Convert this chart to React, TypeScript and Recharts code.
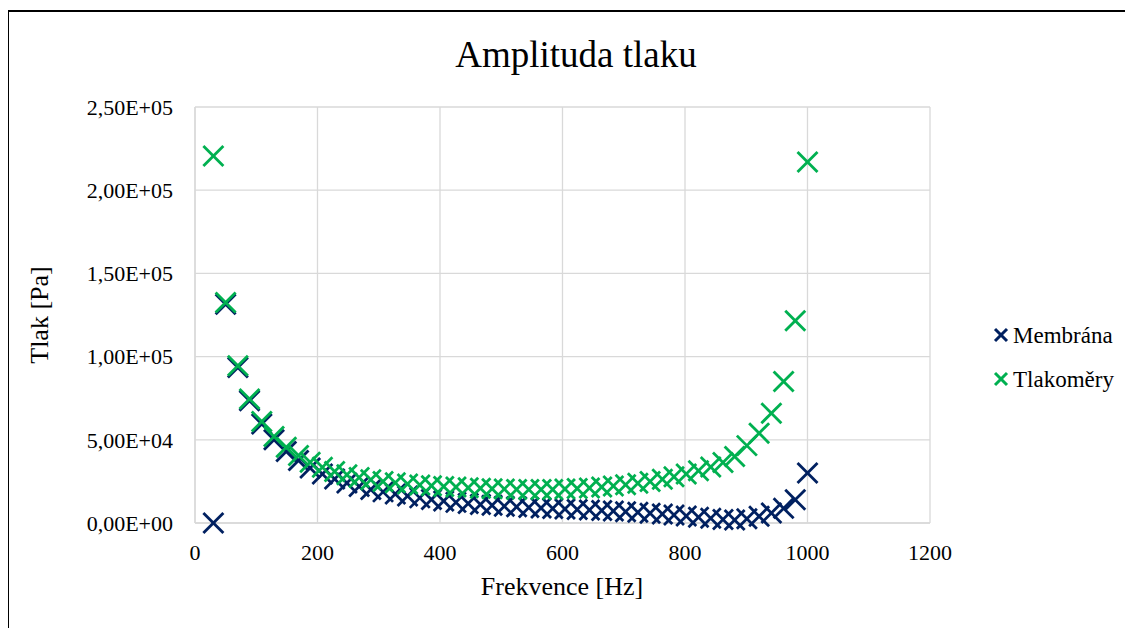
/**
 * Amplituda tlaku
 * Scatter chart of pressure amplitude vs. frequency for two measurements.
 */
import { ScatterChart, Scatter, XAxis, YAxis, CartesianGrid } from "recharts";

// frequency points [Hz]
const freq = [
  30, 50, 70, 89, 109, 129, 149, 169, 188, 208, 228, 248, 268, 287, 307, 327, 347, 367, 386, 406,
  426, 446, 466, 485, 505, 525, 545, 565, 584, 604, 624, 644, 664, 683, 703, 723, 743, 763, 782, 802,
  822, 842, 862, 881, 901, 921, 941, 961, 980, 1000,
];

// pressure amplitude [Pa]
const membrana = [
  0, 131500, 93500, 73500, 59500, 50000, 43000, 37500, 33000, 29500, 26500, 24000, 22000, 20200,
  18700, 17400, 16200, 15100, 14100, 13200, 12400, 11700, 11100, 10600, 10100, 9700, 9300, 9000,
  8700, 8400, 8100, 7800, 7500, 7200, 6800, 6400, 5900, 5400, 4800, 4200, 3500, 2800, 2100, 1800,
  2500, 4000, 6000, 8800, 14000, 30000,
];

const tlakomery = [
  220500, 132500, 94500, 74500, 61000, 52000, 45500, 40500, 36500, 33500, 31000, 29000, 27300,
  26000, 25000, 24200, 23500, 22900, 22400, 22000, 21600, 21200, 20900, 20600, 20400, 20200, 20100,
  20100, 20200, 20400, 20700, 21100, 21600, 22200, 23000, 23900, 25000, 26300, 27800, 29500, 31400,
  33600, 36300, 40000, 46500, 54000, 66000, 85000, 121500, 217000,
];

const xTicks = [0, 200, 400, 600, 800, 1000, 1200];
const yTicks = [0, 50000, 100000, 150000, 200000, 250000];

const seriesNames = ["Membrána", "Tlakoměry"];
const seriesColors = ["#002060", "#00b050"];

const FONT = "'Liberation Serif', 'Times New Roman', serif";

const membranaData = freq.map((f, i) => ({ f, p: membrana[i] }));
const tlakomeryData = freq.map((f, i) => ({ f, p: tlakomery[i] }));

// 2.5e5 -> "2,50E+05"
const fmtSci = (v: number) => {
  const [m, e] = v.toExponential(2).split("e");
  const n = Number(e);
  const exp = (n < 0 ? "-" : "+") + String(Math.abs(n)).padStart(2, "0");
  return `${m.replace(".", ",")}E${exp}`;
};

function Cross({ cx, cy, color, r = 10, w = 2.8 }: any) {
  if (cx == null || cy == null) return null;
  return (
    <g stroke={color} strokeWidth={w}>
      <line x1={cx - r} y1={cy - r} x2={cx + r} y2={cy + r} />
      <line x1={cx - r} y1={cy + r} x2={cx + r} y2={cy - r} />
    </g>
  );
}

export default function App() {
  const tickStyle = { fontSize: 22, fill: "#000" };

  return (
    <div
      style={{
        position: "relative",
        width: 1125,
        height: 620,
        overflow: "hidden",
        background: "#fff",
        fontFamily: FONT,
      }}
    >
      <div
        style={{
          position: "absolute",
          left: -1,
          top: 2,
          width: 1200,
          height: 700,
          border: "2.5px solid #000",
        }}
      />
      <div style={{ position: "absolute", left: 0, top: 0 }}>
        <ScatterChart width={1125} height={620} margin={{ top: 99, right: 203, bottom: 45, left: 0 }}>
          <CartesianGrid stroke="#d9d9d9" strokeWidth={1.3} />
          <XAxis
            type="number"
            dataKey="f"
            domain={[0, 1200]}
            ticks={xTicks}
            height={60}
            tickLine={false}
            tickSize={0}
            tickMargin={21}
            axisLine={{ stroke: "#d9d9d9", strokeWidth: 1.3 }}
            tick={tickStyle}
          />
          <YAxis
            type="number"
            dataKey="p"
            domain={[0, 250000]}
            ticks={yTicks}
            width={187}
            tickLine={false}
            tickSize={0}
            tickMargin={22}
            axisLine={{ stroke: "#d9d9d9", strokeWidth: 1.3 }}
            tick={tickStyle}
            tickFormatter={fmtSci}
          />
          <Scatter
            name={seriesNames[0]}
            data={membranaData}
            isAnimationActive={false}
            shape={(props: any) => <Cross cx={props.cx} cy={props.cy} color={seriesColors[0]} />}
          />
          <Scatter
            name={seriesNames[1]}
            data={tlakomeryData}
            isAnimationActive={false}
            shape={(props: any) => <Cross cx={props.cx} cy={props.cy} color={seriesColors[1]} />}
          />
        </ScatterChart>
      </div>
      <svg
        width={1125}
        height={620}
        style={{ position: "absolute", left: 0, top: 0, pointerEvents: "none" }}
        fontFamily={FONT}
      >
        <text x={568} y={59} fontSize={37} textAnchor="middle" fill="#000">
          Amplituda tlaku
        </text>
        <text x={554} y={587} fontSize={26} textAnchor="middle" fill="#000">
          Frekvence [Hz]
        </text>
        <text x={40} y={307} fontSize={26} textAnchor="middle" fill="#000" transform="rotate(-90, 40, 307)">
          Tlak [Pa]
        </text>
        {seriesNames.map((name, i) => (
          <g key={name}>
            <Cross cx={993} cy={327 + i * 44} color={seriesColors[i]} r={6} w={3} />
            <text x={1005} y={335 + i * 44} fontSize={23} fill="#000">
              {name}
            </text>
          </g>
        ))}
      </svg>
    </div>
  );
}
